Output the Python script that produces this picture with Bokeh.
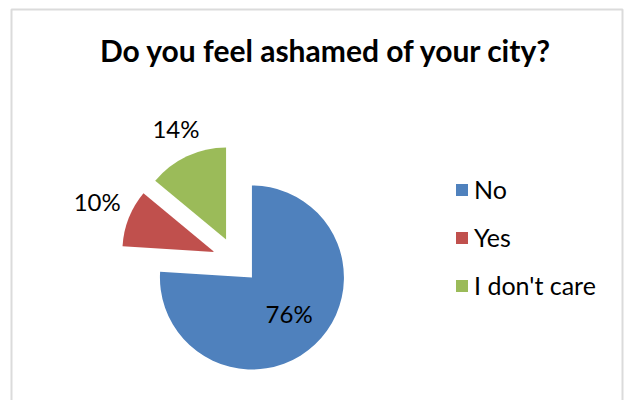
import math
from bokeh.plotting import figure
from bokeh.models import Range1d, Label, BoxAnnotation, Legend, LegendItem, ColumnDataSource
from bokeh.core.properties import value
from bokeh.embed import file_html
from bokeh.resources import INLINE

# ---- data ----
categories = ["No", "Yes", "I don't care"]
percentages = [76, 10, 14]
colors = ["#4F81BD", "#C0504D", "#9BBB59"]
title_text = "Do you feel ashamed of your city?"

# ---- layout / style ----
W, H = 624, 400
cx, cy = 235.5, 140.0      # pie centre (data units == pixels)
radius = 92
explode = 0.253            # fraction of radius
label_factor = [0.59, 1.37, 1.28]
label_shift = 4            # vertical text anchor correction, px

total = sum(percentages)
starts, ends, xs, ys, lx, ly, texts = [], [], [], [], [], [], []
cum = 0.0
for i, v in enumerate(percentages):
    a = cum / total
    b = (cum + v) / total
    cum += v
    sa = math.pi / 2 - 2 * math.pi * a
    ea = math.pi / 2 - 2 * math.pi * b
    mid = (sa + ea) / 2
    ox = cx + explode * radius * math.cos(mid)
    oy = cy + explode * radius * math.sin(mid)
    starts.append(sa)
    ends.append(ea)
    xs.append(ox)
    ys.append(oy)
    lx.append(ox + label_factor[i] * radius * math.cos(mid))
    ly.append(oy + label_factor[i] * radius * math.sin(mid) + label_shift)
    texts.append(f"{v}%")

src = ColumnDataSource(dict(x=xs, y=ys, start=starts, end=ends, color=colors,
                            cat=categories, lx=lx, ly=ly, txt=texts))

p = figure(width=W, height=H, output_backend="svg", toolbar_location=None,
           x_range=Range1d(0, W), y_range=Range1d(0, H),
           min_border=0, outline_line_color=None)
p.axis.visible = False
p.grid.visible = False
p.background_fill_color = "white"
p.border_fill_color = "white"

# chart frame
p.add_layout(BoxAnnotation(left=11, right=622, bottom=-10, top=391,
                           fill_alpha=0, line_color="#878787", line_width=2))

r = p.wedge(x="x", y="y", radius=radius, start_angle="start", end_angle="end",
            direction="clock", fill_color="color", line_color=None, source=src)

p.text(x="lx", y="ly", text="txt", source=src, text_align="center",
       text_baseline="alphabetic", text_font=value("Lato"), text_font_size="24px",
       text_color="black")

p.add_layout(Label(x=325.8, y=350.7, text=title_text, text_align="center",
                   text_baseline="alphabetic", text_font="Lato",
                   text_font_style="bold", text_font_size="30px", text_color="black"))

legend = Legend(items=[LegendItem(label=c, renderers=[r], index=i) for i, c in enumerate(categories)],
                location=(454, 100), orientation="vertical",
                glyph_width=15, glyph_height=15, label_standoff=5, spacing=18,
                padding=0, margin=0, border_line_color=None, background_fill_alpha=0,
                label_text_font="Lato", label_text_font_size="25px", label_text_color="black")
p.add_layout(legend, "center")

open("out.html", "w").write(file_html(p, INLINE))
